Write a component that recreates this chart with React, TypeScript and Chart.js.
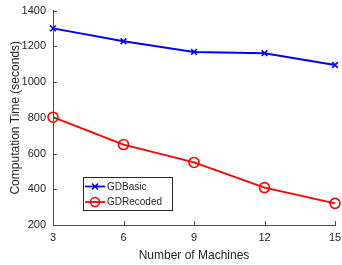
import React, { useEffect, useRef } from "react";
import { Chart, registerables } from "chart.js";

Chart.register(...registerables);

const machines = [3, 6, 9, 12, 15];
const gdBasic = [1300, 1228, 1168, 1161, 1095];
const gdRecoded = [803, 650, 550, 409, 321];
const xTicks = [3, 6, 9, 12, 15];
const yTicks = [200, 400, 600, 800, 1000, 1200, 1400];
const seriesNames = ["GDBasic", "GDRecoded"];
const seriesColors = ["#0000ff", "#ff0000"];
const seriesMarkers = ["crossRot", "circle"];

const FONT = '"Liberation Sans", Arial, Helvetica, sans-serif';
const TEXT = "#262626";
const AXIS = "#4d4d4d";

const inwardTicks = {
  id: "inwardTicks",
  afterDraw(chart: any) {
    const { ctx, chartArea, scales } = chart;
    ctx.save();
    ctx.strokeStyle = AXIS;
    ctx.lineWidth = 1;
    ctx.beginPath();
    xTicks.forEach((v) => {
      const x = Math.round(scales.x.getPixelForValue(v)) + 0.5;
      ctx.moveTo(x, chartArea.bottom);
      ctx.lineTo(x, chartArea.bottom - 4);
    });
    yTicks.forEach((v) => {
      const y = Math.round(scales.y.getPixelForValue(v)) + 0.5;
      ctx.moveTo(chartArea.left, y);
      ctx.lineTo(chartArea.left + 4, y);
    });
    ctx.stroke();
    ctx.restore();
  },
};

const boxLegend = {
  id: "boxLegend",
  afterDraw(chart: any) {
    const { ctx, chartArea } = chart;
    const bx = chartArea.left + 30;
    const by = chartArea.bottom - 48;
    const bw = 89;
    const bh = 33;
    ctx.save();
    ctx.fillStyle = "#ffffff";
    ctx.fillRect(bx, by, bw, bh);
    ctx.strokeStyle = TEXT;
    ctx.lineWidth = 1;
    ctx.strokeRect(bx + 0.5, by + 0.5, bw, bh);
    ctx.font = "10px " + FONT;
    ctx.textBaseline = "middle";
    ctx.textAlign = "left";
    seriesNames.forEach((name, i) => {
      const cy = by + 9.5 + i * 15.5;
      ctx.strokeStyle = seriesColors[i];
      ctx.lineWidth = 1.8;
      ctx.beginPath();
      ctx.moveTo(bx + 2, cy);
      ctx.lineTo(bx + 22, cy);
      ctx.stroke();
      const mx = bx + 12;
      ctx.lineWidth = 1.5;
      ctx.beginPath();
      if (seriesMarkers[i] === "circle") {
        ctx.arc(mx, cy, 4.5, 0, Math.PI * 2);
      } else {
        ctx.moveTo(mx - 3, cy - 3);
        ctx.lineTo(mx + 3, cy + 3);
        ctx.moveTo(mx + 3, cy - 3);
        ctx.lineTo(mx - 3, cy + 3);
      }
      ctx.stroke();
      ctx.fillStyle = TEXT;
      ctx.fillText(name, bx + 24, cy + 0.5);
    });
    ctx.restore();
  },
};

export default function App() {
  const ref = useRef<HTMLCanvasElement>(null);
  useEffect(() => {
    if (!ref.current) return;
    const chart = new Chart(ref.current, {
      type: "line",
      data: {
        datasets: [gdBasic, gdRecoded].map((vals, i) => ({
          label: seriesNames[i],
          data: machines.map((m, j) => ({ x: m, y: vals[j] })),
          borderColor: seriesColors[i],
          backgroundColor: "rgba(0,0,0,0)",
          borderWidth: 1.9,
          pointStyle: seriesMarkers[i] as any,
          pointRadius: i === 0 ? 4 : 5,
          pointBorderWidth: 1.6,
          pointBorderColor: seriesColors[i],
          pointBackgroundColor: "rgba(0,0,0,0)",
          tension: 0,
          clip: false as any,
        })),
      },
      options: {
        responsive: false,
        animation: false,
        layout: { padding: { left: 0, top: 10.5, right: 7, bottom: 0 } },
        plugins: { legend: { display: false }, tooltip: { enabled: false } },
        scales: {
          x: {
            type: "linear",
            min: 3,
            max: 15,
            afterBuildTicks: (s: any) => {
              s.ticks = xTicks.map((v) => ({ value: v }));
            },
            afterFit: (s: any) => {
              s.height = 40;
              s.paddingLeft = 0;
              s.paddingRight = 0;
            },
            grid: { display: false, drawTicks: false },
            border: { display: true, color: AXIS, width: 1 },
            ticks: {
              padding: 6,
              color: TEXT,
              font: { family: FONT, size: 11 },
              maxRotation: 0,
              callback: (v: any) => String(v),
            },
            title: {
              display: true,
              text: "Number of Machines",
              color: TEXT,
              font: { family: FONT, size: 12 },
              padding: { top: 0, bottom: 2 },
            },
          },
          y: {
            type: "linear",
            min: 200,
            max: 1400,
            afterBuildTicks: (s: any) => {
              s.ticks = yTicks.map((v) => ({ value: v }));
            },
            afterFit: (s: any) => {
              s.width = 53;
              s.paddingTop = 0;
              s.paddingBottom = 0;
            },
            grid: { display: false, drawTicks: false },
            border: { display: true, color: AXIS, width: 1 },
            ticks: {
              padding: 7,
              color: TEXT,
              font: { family: FONT, size: 11 },
              callback: (v: any) => String(v),
            },
            title: {
              display: true,
              text: "Computation Time (seconds)",
              color: TEXT,
              font: { family: FONT, size: 12 },
              padding: { top: 8, bottom: 0 },
            },
          },
        },
      },
      plugins: [inwardTicks, boxLegend],
    });
    return () => chart.destroy();
  }, []);
  return (
    <div style={{ position: "absolute", left: 0, top: 0, width: 342, height: 265, background: "#fff" }}>
      <canvas ref={ref} width={342} height={265} style={{ display: "block" }} />
    </div>
  );
}
